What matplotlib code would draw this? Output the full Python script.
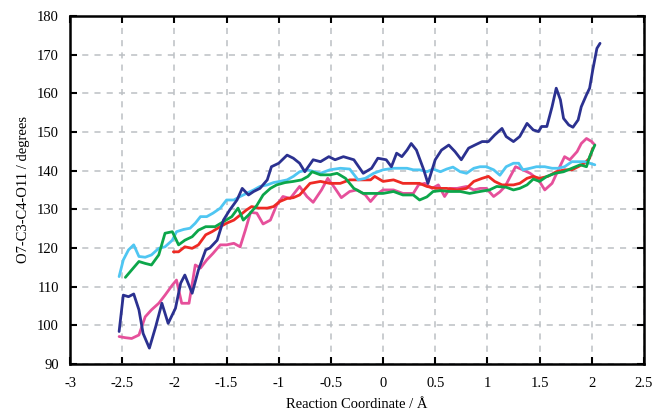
import matplotlib
matplotlib.use("Agg")
import matplotlib.pyplot as plt
import numpy as np

# traces (reaction coordinate / Å, angle / degrees)
navy_x = [-2.53, -2.49, -2.44, -2.39, -2.34, -2.30, -2.24, -2.18, -2.12, -2.06,
          -1.99, -1.94, -1.90, -1.83, -1.77, -1.70, -1.66, -1.59, -1.53, -1.47,
          -1.40, -1.35, -1.29, -1.24, -1.18, -1.11, -1.07, -1.00, -0.92, -0.86,
          -0.80, -0.75, -0.67, -0.60, -0.52, -0.46, -0.38, -0.28, -0.19, -0.11,
          -0.05, 0.03, 0.08, 0.13, 0.18, 0.23, 0.27, 0.32, 0.39, 0.43,
          0.50, 0.56, 0.63, 0.69, 0.75, 0.82, 0.88, 0.95, 1.01, 1.07,
          1.14, 1.18, 1.25, 1.31, 1.38, 1.44, 1.49, 1.52, 1.57, 1.62,
          1.66, 1.70, 1.73, 1.78, 1.82, 1.87, 1.90, 1.95, 1.98, 2.01,
          2.05, 2.08]
navy_y = [98.4, 107.8, 107.4, 108.1, 104.0, 97.9, 94.1, 99.6, 105.7, 100.5,
          104.4, 110.9, 113.0, 108.3, 114.3, 119.5, 120.0, 122.0, 127.2, 129.8,
          132.4, 135.4, 133.7, 134.6, 135.4, 137.6, 141.0, 141.9, 144.0, 143.2,
          141.9, 139.7, 142.8, 142.3, 143.6, 142.8, 143.6, 142.8, 139.3, 140.6,
          143.2, 142.8, 141.0, 144.5, 143.6, 145.3, 147.0, 145.3, 140.2, 136.7,
          142.8, 145.3, 146.6, 144.9, 142.8, 145.8, 146.6, 147.5, 147.5, 149.2,
          150.9, 148.8, 147.5, 148.8, 152.2, 150.5, 150.1, 151.4, 151.4, 156.5,
          161.3, 158.3, 153.5, 151.8, 151.2, 153.1, 156.5, 159.6, 161.3, 166.0,
          171.6, 172.9]

sky_x = [-2.53, -2.49, -2.44, -2.39, -2.34, -2.28, -2.22, -2.15, -2.09, -2.02,
         -1.98, -1.91, -1.85, -1.80, -1.75, -1.69, -1.63, -1.56, -1.50, -1.43,
         -1.37, -1.31, -1.24, -1.18, -1.11, -1.05, -0.99, -0.92, -0.86, -0.80,
         -0.73, -0.60, -0.51, -0.41, -0.32, -0.24, -0.17, -0.09, 0.00, 0.10,
         0.23, 0.29, 0.35, 0.42, 0.48, 0.55, 0.61, 0.67, 0.74, 0.80,
         0.87, 0.93, 0.99, 1.06, 1.12, 1.18, 1.25, 1.30, 1.34, 1.41,
         1.47, 1.55, 1.62, 1.68, 1.74, 1.81, 1.87, 1.93, 1.98, 2.03]
sky_y = [112.6, 116.9, 119.5, 120.8, 117.8, 117.6, 118.2, 119.9, 120.3, 122.0,
         124.2, 124.8, 125.1, 126.4, 128.1, 128.1, 129.0, 130.3, 132.4, 132.4,
         133.3, 134.1, 135.0, 135.9, 136.3, 136.9, 137.2, 137.6, 138.5, 139.7,
         140.2, 139.3, 140.2, 140.6, 140.4, 137.6, 138.0, 139.3, 140.2, 140.6,
         140.6, 140.2, 140.2, 139.7, 140.4, 139.7, 140.4, 140.9, 139.7, 139.3,
         140.6, 141.0, 141.0, 140.2, 138.8, 141.0, 141.9, 141.9, 140.2, 140.6,
         141.0, 141.0, 140.6, 140.6, 141.0, 142.3, 142.3, 142.3, 141.9, 141.5]

green_x = [-2.47, -2.41, -2.34, -2.28, -2.22, -2.15, -2.09, -2.02, -1.96, -1.90,
           -1.83, -1.77, -1.70, -1.61, -1.53, -1.45, -1.39, -1.34, -1.29, -1.21,
           -1.15, -1.08, -1.02, -0.94, -0.86, -0.78, -0.72, -0.68, -0.60, -0.51,
           -0.44, -0.36, -0.28, -0.19, -0.09, 0.00, 0.10, 0.19, 0.29, 0.35,
           0.42, 0.48, 0.55, 0.64, 0.74, 0.83, 0.93, 1.02, 1.09, 1.18,
           1.25, 1.31, 1.38, 1.44, 1.50, 1.57, 1.65, 1.73, 1.81, 1.89,
           1.95, 1.98, 2.03]
green_y = [112.4, 114.3, 116.5, 116.0, 115.6, 118.2, 123.8, 124.2, 120.8, 122.0,
           122.9, 124.6, 125.5, 125.5, 126.8, 128.1, 130.3, 127.2, 128.5, 131.0,
           133.7, 135.4, 136.3, 136.9, 137.2, 137.6, 138.5, 139.7, 138.9, 138.9,
           139.3, 138.0, 135.4, 134.1, 134.1, 134.1, 134.6, 133.7, 133.7, 132.4,
           133.2, 134.6, 134.8, 134.6, 134.6, 134.1, 134.6, 135.0, 135.9, 135.7,
           135.0, 135.4, 136.3, 137.8, 137.2, 138.5, 139.3, 139.7, 140.6, 141.5,
           141.0, 143.6, 146.6]

red_x = [-2.01, -1.96, -1.90, -1.83, -1.77, -1.70, -1.64, -1.56, -1.50, -1.43,
         -1.37, -1.31, -1.26, -1.19, -1.11, -1.05, -0.99, -0.92, -0.86, -0.80,
         -0.70, -0.60, -0.51, -0.41, -0.32, -0.22, -0.12, -0.08, 0.00, 0.10,
         0.19, 0.29, 0.35, 0.42, 0.51, 0.61, 0.71, 0.80, 0.87, 0.95,
         1.01, 1.07, 1.14, 1.20, 1.25, 1.31, 1.38, 1.44, 1.50, 1.58,
         1.66, 1.74, 1.81, 1.87, 1.93, 1.98, 2.01]
red_y = [119.0, 119.0, 120.3, 119.9, 120.8, 123.4, 124.2, 125.5, 126.4, 127.2,
         128.5, 129.8, 130.7, 130.3, 130.3, 130.7, 132.0, 132.8, 133.0, 133.7,
         136.7, 137.2, 136.7, 136.7, 137.6, 137.6, 137.6, 138.5, 137.2, 137.6,
         136.7, 136.7, 136.7, 135.9, 135.4, 135.4, 135.0, 135.4, 137.2, 138.0,
         138.5, 137.2, 136.3, 136.3, 136.3, 136.7, 138.0, 138.5, 138.0, 138.5,
         139.7, 140.2, 140.2, 141.0, 141.9, 143.2, 145.8]

pink_x = [-2.53, -2.47, -2.41, -2.34, -2.28, -2.22, -2.15, -2.09, -2.02, -1.98,
          -1.93, -1.86, -1.80, -1.75, -1.69, -1.63, -1.56, -1.50, -1.43, -1.37,
          -1.32, -1.27, -1.21, -1.15, -1.08, -1.02, -0.96, -0.89, -0.80, -0.73,
          -0.67, -0.59, -0.53, -0.46, -0.40, -0.32, -0.25, -0.17, -0.12, -0.06,
          0.00, 0.10, 0.19, 0.29, 0.34, 0.40, 0.47, 0.53, 0.59, 0.64,
          0.71, 0.80, 0.87, 0.93, 0.99, 1.06, 1.12, 1.17, 1.22, 1.27,
          1.34, 1.41, 1.49, 1.55, 1.62, 1.68, 1.74, 1.79, 1.86, 1.90,
          1.95, 2.00, 2.03]
pink_y = [97.1, 96.8, 96.6, 97.5, 102.2, 104.0, 105.7, 107.8, 110.4, 111.7,
          105.7, 105.7, 115.6, 114.8, 116.9, 118.6, 120.8, 120.8, 121.2, 120.3,
          124.6, 129.2, 129.0, 126.2, 127.2, 131.1, 133.3, 132.8, 135.9, 133.3,
          131.8, 135.0, 138.0, 135.4, 133.0, 134.6, 135.0, 133.7, 132.0, 133.9,
          135.0, 135.0, 134.1, 134.1, 136.3, 136.7, 135.4, 136.3, 133.3, 135.4,
          135.4, 135.9, 135.0, 135.4, 135.4, 133.3, 134.5, 135.9, 138.5, 141.0,
          140.2, 139.3, 137.6, 135.0, 136.7, 140.2, 143.6, 142.8, 144.9, 147.0,
          148.3, 147.5, 146.6]

x_ticks = [-3, -2.5, -2, -1.5, -1, -0.5, 0, 0.5, 1, 1.5, 2, 2.5]
x_ticklabels = ["-3", "-2.5", "-2", "-1.5", "-1", "-0.5", "0", "0.5", "1", "1.5", "2", "2.5"]
y_ticks = list(range(90, 181, 10))

plt.rcParams["font.family"] = ["Liberation Serif", "DejaVu Serif"]
plt.rcParams["axes.unicode_minus"] = False

fig = plt.figure(figsize=(6.55, 4.12), dpi=100)
ax = fig.add_axes([0.107, 0.1165, 0.876, 0.845])

series = [
    (pink_x, pink_y, "#e6509b"),
    (red_x, red_y, "#ee2a24"),
    (sky_x, sky_y, "#4fc6f2"),
    (green_x, green_y, "#0ca64a"),
    (navy_x, navy_y, "#2b3190"),
]
for xs, ys, c in series:
    ax.plot(xs, ys, color=c, lw=2.0, solid_joinstyle="round", solid_capstyle="round")

ax.set_xlim(-3, 2.5)
ax.set_ylim(90, 180)
ax.set_xticks(x_ticks)
ax.set_xticklabels(x_ticklabels)
ax.set_yticks(y_ticks)
ax.grid(True, color="#bcc0c4", ls=(0, (4, 4)), lw=1.1)
ax.set_axisbelow(True)

for sp in ax.spines.values():
    sp.set_linewidth(1.8)
    sp.set_color("black")
ax.tick_params(direction="in", top=True, right=True, length=5, width=1.5,
               labelsize=10.5, colors="black")
ax.tick_params(axis="x", pad=9)
ax.tick_params(axis="y", pad=8)

ax.set_xlabel("Reaction Coordinate / Å", fontsize=10.5, labelpad=6)
ax.set_ylabel("O7-C3-C4-O11 / degrees", fontsize=10.5, labelpad=5)

fig.savefig("out.png", dpi=100)
